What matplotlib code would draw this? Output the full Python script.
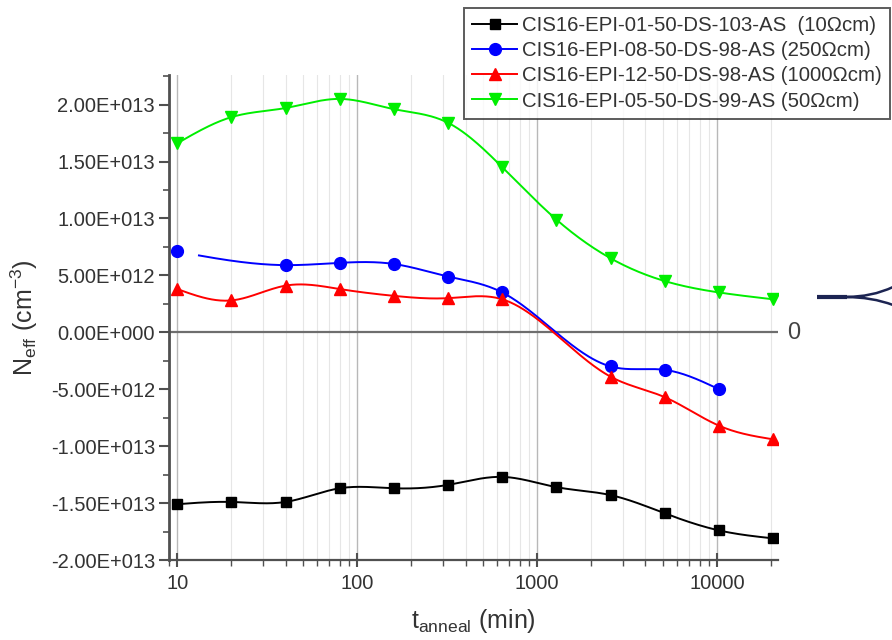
import numpy as np
import matplotlib
matplotlib.use("Agg")
import matplotlib.pyplot as plt
from matplotlib import ticker
from matplotlib.path import Path
from matplotlib.patches import PathPatch

plt.rcParams['font.family'] = ['Liberation Sans', 'DejaVu Sans']

# annealing times (min) and Neff (cm^-3) for each sample
t_all = [10, 20, 40, 80, 160, 320, 640, 1280, 2560, 5120, 10240, 20480]

neff_10 = [-1.51e13, -1.49e13, -1.49e13, -1.37e13, -1.37e13, -1.34e13,
           -1.27e13, -1.36e13, -1.43e13, -1.59e13, -1.74e13, -1.81e13]

t_250 = [10, 40, 80, 160, 320, 640, 2560, 5120, 10240]
neff_250 = [0.71e13, 0.59e13, 0.61e13, 0.60e13, 0.49e13, 0.35e13,
            -0.30e13, -0.33e13, -0.50e13]

t_1000 = [10, 20, 40, 80, 160, 320, 640, 2560, 5120, 10240, 20480]
neff_1000 = [0.38e13, 0.28e13, 0.41e13, 0.38e13, 0.32e13, 0.30e13,
             0.29e13, -0.39e13, -0.57e13, -0.82e13, -0.94e13]

neff_50 = [1.66e13, 1.89e13, 1.97e13, 2.05e13, 1.96e13, 1.84e13,
           1.45e13, 0.99e13, 0.65e13, 0.45e13, 0.35e13, 0.29e13]

labels = ['CIS16-EPI-01-50-DS-103-AS  (10\u03a9cm)',
          'CIS16-EPI-08-50-DS-98-AS (250\u03a9cm)',
          'CIS16-EPI-12-50-DS-98-AS (1000\u03a9cm)',
          'CIS16-EPI-05-50-DS-99-AS (50\u03a9cm)']


def spline(xs, ys, n=400):
    # natural cubic spline in log10(t), like Origin's spline connector
    t = np.log10(np.asarray(xs, dtype=float))
    y = np.asarray(ys, dtype=float)
    m = len(t)
    h = np.diff(t)
    A = np.zeros((m, m))
    r = np.zeros(m)
    A[0, 0] = A[-1, -1] = 1
    for i in range(1, m - 1):
        A[i, i - 1] = h[i - 1]
        A[i, i] = 2 * (h[i - 1] + h[i])
        A[i, i + 1] = h[i]
        r[i] = 3 * ((y[i + 1] - y[i]) / h[i] - (y[i] - y[i - 1]) / h[i - 1])
    c = np.linalg.solve(A, r)
    b = (y[1:] - y[:-1]) / h - h * (2 * c[:-1] + c[1:]) / 3
    d = (c[1:] - c[:-1]) / (3 * h)
    tt = np.linspace(t[0], t[-1], n)
    idx = np.clip(np.searchsorted(t, tt) - 1, 0, m - 2)
    dt = tt - t[idx]
    yy = y[idx] + b[idx] * dt + c[idx] * dt ** 2 + d[idx] * dt ** 3
    return 10 ** tt, yy


def sci3(v, pos):
    s = f"{v:.2E}"
    m, e = s.split('E')
    if abs(v) < 1:
        m = '0.00'
    return f"{m}E{int(e):+04d}"


W, H = 892, 640
fig = plt.figure(figsize=(W / 100, H / 100), dpi=100)
ax = fig.add_axes([169 / W, 1 - 560 / H, (778 - 169) / W, (560 - 75) / H])

series = [
    (t_all, neff_10, 'black', 's', 7.5, None),
    (t_250, neff_250, '#0000ff', 'o', 8.5, 13.1),
    (t_1000, neff_1000, '#ff0000', '^', 8.5, None),
    (t_all, neff_50, '#00ee00', 'v', 8.5, None),
]

handles = []
for (tx, ny, col, mk, ms, tstart), lab in zip(series, labels):
    lw = 1.4
    sx, sy = spline(tx, ny)
    if tstart is not None:
        keep = sx >= tstart
        sx, sy = sx[keep], sy[keep]
    ax.plot(sx, sy, color=col, lw=lw, zorder=3)
    ax.plot(tx, ny, ls='none', marker=mk, ms=ms, color=col, zorder=4)
    h, = ax.plot([], [], color=col, lw=lw, marker=mk, ms=ms)
    handles.append(h)

ax.axhline(0, color='#6e6e6e', lw=1.6, zorder=2)

ax.set_xscale('log')
ax.set_xlim(9.0, 21800)
ax.set_ylim(-2.0e13, 2.26e13)

ax.xaxis.set_major_locator(ticker.LogLocator(base=10))
ax.xaxis.set_minor_locator(ticker.LogLocator(base=10, subs=np.arange(2, 10)))
ax.xaxis.set_major_formatter(ticker.FuncFormatter(lambda v, p: f"{v:g}"))
ax.xaxis.set_minor_formatter(ticker.NullFormatter())
ax.yaxis.set_major_locator(ticker.MultipleLocator(5e12))
ax.yaxis.set_minor_locator(ticker.MultipleLocator(2.5e12))
ax.yaxis.set_major_formatter(ticker.FuncFormatter(sci3))

ax.grid(True, which='major', axis='x', color='#b8b8b8', lw=1.0)
ax.grid(True, which='minor', axis='x', color='#e6e6e6', lw=0.8)
ax.set_axisbelow(True)

for side in ('top', 'right'):
    ax.spines[side].set_visible(False)
ax.spines['left'].set_linewidth(2.0)
ax.spines['left'].set_color('#505050')
ax.spines['bottom'].set_linewidth(1.6)
ax.spines['bottom'].set_color('#505050')

ax.tick_params(axis='y', which='major', direction='out', length=7, width=1.5,
               color='#505050', labelsize=14.5, labelcolor='#333333', pad=3)
ax.tick_params(axis='y', which='minor', direction='out', length=4, width=1.2,
               color='#505050')
ax.tick_params(axis='x', which='major', direction='inout', length=10, width=1.5,
               color='#505050', labelsize=14.5, labelcolor='#333333', pad=5)
ax.tick_params(axis='x', which='minor', direction='out', length=4, width=1.0,
               color='#505050')

ax.set_xlabel(r'$\mathregular{t_{anneal}}$ (min)', fontsize=18, color='#333333',
              labelpad=10)
ax.set_ylabel(r'$\mathregular{N_{eff}}$ (cm$\mathregular{^{-3}}$)', fontsize=18,
              color='#333333', labelpad=8)

leg = fig.legend(handles, labels, loc='upper right',
                 bbox_to_anchor=(890 / W, 1 - 8 / H), fontsize=14.7,
                 labelspacing=0.3, handlelength=2.2, handletextpad=0.25,
                 borderpad=0.4, borderaxespad=0, frameon=True, fancybox=False)
leg.get_frame().set_edgecolor('#333333')
leg.get_frame().set_linewidth(1.4)
for txt in leg.get_texts():
    txt.set_color('#333333')

# zero marker label at the end of the baseline
fig.text(787 / W, 1 - 333 / H, '0', fontsize=17, color='#444444',
         ha='left', va='center')

# bracket pointing at the plot from the right
def px(x, y):
    return (x / W, 1 - y / H)

navy = '#1c2452'
stem = Path([px(817, 297), px(847, 297)], [Path.MOVETO, Path.LINETO])
fig.add_artist(PathPatch(stem, transform=fig.transFigure,
                         facecolor='none', edgecolor=navy, lw=3.0))
arms = Path([px(845, 297), px(872, 297), px(893, 287),
             px(845, 297), px(872, 297), px(893, 305)],
            [Path.MOVETO, Path.CURVE3, Path.CURVE3,
             Path.MOVETO, Path.CURVE3, Path.CURVE3])
fig.add_artist(PathPatch(arms, transform=fig.transFigure,
                         facecolor='none', edgecolor=navy, lw=1.8))

fig.savefig('out.png', dpi=100)
